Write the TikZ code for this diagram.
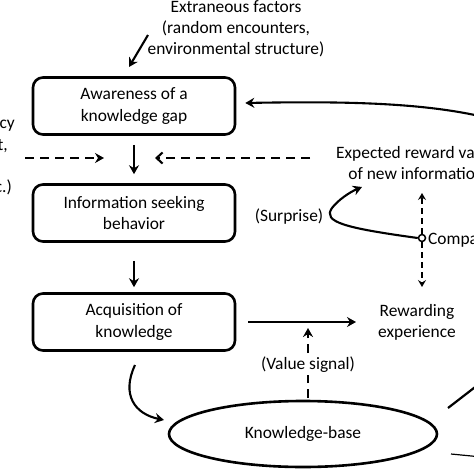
\documentclass[tikz,border=0pt]{standalone}
\usepackage{fontspec}
\setmainfont{Carlito}
\usetikzlibrary{arrows.meta,shapes.geometric}
\begin{document}
\begin{tikzpicture}[x=1pt,y=-1pt,
  font=\fontsize{17.4}{21.2}\selectfont,
  stepbox/.style={draw,line width=2.6pt,rounded corners=10pt,minimum width=202pt,minimum height=57pt,align=center,inner sep=0pt},
  txt/.style={align=center,inner sep=0pt},
  arr/.style={line width=2.1pt,-{Stealth[length=9pt,width=10pt,inset=3pt]}},
  darr/.style={arr,dash pattern=on 9pt off 6pt},
  sdarr/.style={line width=1.8pt,dash pattern=on 6pt off 4pt,-{Stealth[length=7pt,width=8pt,inset=2.5pt]}},
  odarr/.style={line width=2.1pt,dash pattern=on 9pt off 6pt,-{Straight Barb[length=6pt,width=11pt]}},
]
\useasboundingbox (0,0) rectangle (474,474);
\clip (0,0) rectangle (474,474);
% nodes
\node[txt] (ext) at (236,29) {Extraneous factors\\(random encounters,\\environmental structure)};
\node[stepbox] (aw) at (134,106) {Awareness of a\\knowledge gap};
\node[stepbox] (isb) at (134,213) {Information seeking\\behavior};
\node[stepbox] (acq) at (134,322) {Acquisition of\\knowledge};
\node[draw,ellipse,line width=2.6pt,minimum width=268pt,minimum height=66pt,inner sep=0pt] (kb) at (303,434) {Knowledge-base};
\node[txt] (rew) at (417,322) {Rewarding\\experience};
\node[txt,anchor=west] (exp) at (336,163) {Expected reward value\\of new information};
\node[draw,circle,fill=white,line width=1.5pt,minimum size=7pt,inner sep=0pt] (cmp) at (422,238) {};
\node[txt,anchor=west] (cmpl) at (428,240) {Comparison};
\node[txt] (sur) at (289,217) {(Surprise)};
\node[txt,anchor=east] (lt1) at (15,126) {cy};
\node[txt,anchor=east] (lt2) at (8,146) {t,};
\node[txt,anchor=east] (lt3) at (12,187) {c.)};
% coordinates
\coordinate (e1) at (148,35);
\coordinate (e2) at (129,67);
\coordinate (r1) at (492,119);
\coordinate (l1) at (25,158);
\coordinate (l2) at (104,158);
\coordinate (r2) at (310,158);
\coordinate (r3) at (155,158);
\coordinate (a1) at (135,365);
\coordinate (a2) at (164,420);
\coordinate (v1) at (308,398);
\coordinate (v2) at (308,328);
\coordinate (cu) at (422,193);
\coordinate (cd) at (422,287);
\coordinate (sp) at (362,187);
\coordinate (k1) at (448,408);
\coordinate (k2) at (492,374);
\coordinate (k3) at (451,454);
\coordinate (k4) at (492,458);
% connectors
\draw[arr] (e1) -- (e2);
\draw[arr,shorten <=9pt,shorten >=9pt] (aw) -- (isb);
\draw[arr,shorten <=18pt,shorten >=5pt] (isb) -- (acq);
\draw[arr,shorten <=12pt,shorten >=22pt] (acq.east) -- (rew.west |- acq.east);
\draw[arr] (r1) .. controls (430,103) and (350,101) .. ([xshift=9pt,yshift=3pt]aw.east);
\draw[darr] (l1) -- (l2);
\draw[odarr] (r2) -- (r3);
\draw[arr] (a1) .. controls (121,395) and (135,414) .. (a2);
\draw[darr] (v1) -- node[pos=0.47,fill=white,inner sep=2pt] (vsl) {(Value signal)} (v2);
\draw[sdarr] (cmp) -- (cu);
\draw[sdarr] (cmp) -- (cd);
\draw[arr] (cmp.west) .. controls (345,228) and (322,222) .. (332,208) .. controls (338,200) and (350,192) .. (sp);
\draw[line width=2.2pt] (k1) -- (k2);
\draw[line width=1.2pt] (k3) -- (k4);
\end{tikzpicture}
\end{document}
